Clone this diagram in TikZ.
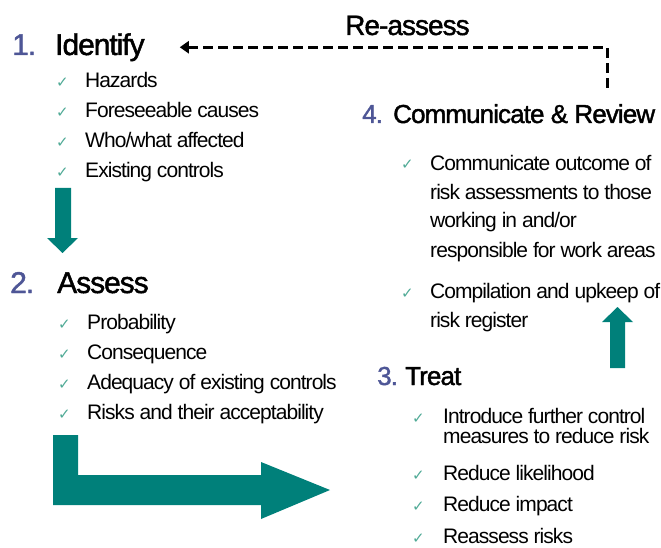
\documentclass[tikz,border=0pt]{standalone}
\usepackage{fontspec}
\setmainfont{Liberation Sans}
\newfontfamily\headfont{Liberation Sans}[LetterSpace=-3.5,FakeBold=1.5]
\newfontfamily\itemfont{Liberation Sans}[LetterSpace=-4.5]
\newfontfamily\tickfont{DejaVu Sans}
\usetikzlibrary{arrows.meta}

\definecolor{stepblue}{RGB}{78,86,150}
\definecolor{tickgreen}{RGB}{80,170,150}
\definecolor{arrowteal}{RGB}{0,128,122}

\tikzset{
  head/.style={anchor=base west,inner sep=0pt,font=\headfont\fontsize{30}{32}\selectfont},
  subhead/.style={head,font=\headfont\fontsize{26}{30}\selectfont},
  num/.style={text=stepblue},
  item/.style={anchor=base west,inner sep=0pt,align=left,font=\itemfont\fontsize{21}{29}\selectfont},
  tick/.style={anchor=base west,inner sep=0pt,text=tickgreen,font=\tickfont\fontsize{15}{15}\selectfont},
  block/.style={fill=arrowteal,draw=none},
  reassess/.style={dashed,dash pattern=on 10pt off 5pt,line width=3pt,-{Triangle[length=9pt,width=12pt]}}
}

\begin{document}
\begin{tikzpicture}[x=1pt,y=-1pt]
\useasboundingbox (0,0) rectangle (661,548);

% 1. Identify
\node[head,num] (n1) at (12,55) {1.};
\node[head] (idf) at (55,55) {Identify};
\foreach \txt [count=\i] in {Hazards,Foreseeable causes,Who/what affected,Existing controls}{
  \node[tick] (idt\i) at (56,58+30*\i) {✓};
  \node[item] (id\i) at (85,58+30*\i) {\txt};
}

% 2. Assess
\node[head,num] (n2) at (10,293) {2.};
\node[head] (asr) at (57,293) {Assess};
\foreach \txt [count=\i] in {Probability,Consequence,Adequacy of existing controls,Risks and their acceptability}{
  \node[tick] (ast\i) at (58,299+30*\i) {✓};
  \node[item] (as\i) at (87,299+30*\i) {\txt};
}

% 3. Treat  (multi-line items sit on the baseline of their last line)
\node[subhead,num] (n3) at (377,385) {3.};
\node[subhead] (trt) at (405,385) {Treat};
\node[tick] (trt1) at (412,423) {✓};
\node[item,font=\itemfont\fontsize{21}{20}\selectfont] (tr1) at (443,443) {Introduce further control\\measures to reduce risk};
\foreach \txt [count=\i from 2] in {Reduce likelihood,Reduce impact,Reassess risks}{
  \node[tick] (trt\i) at (412,417+31.5*\i) {✓};
  \node[item] (tr\i) at (443,417+31.5*\i) {\txt};
}

% 4. Communicate & Review
\node[subhead,num] (n4) at (362,123) {4.};
\node[subhead] (rev) at (393,123) {Communicate \& Review};
\node[tick] (rvt1) at (401,170) {✓};
\node[item] (rv1) at (430,257) {Communicate outcome of\\risk assessments to those\\working in and/or\\responsible for work areas};
\node[tick] (rvt2) at (401,298) {✓};
\node[item] (rv2) at (430,327) {Compilation and upkeep of\\risk register};

% block arrows between the steps
\fill[block] (55,188) -- (71,188) -- (71,238) -- (78,238) -- (62.5,253) -- (47,238) -- (55,238) -- cycle;
\fill[block] (53,435) -- (78,435) -- (78,475) -- (261,475) -- (261,462) -- (330,490)
  -- (261,519) -- (261,505) -- (53,505) -- cycle;
\fill[block] (610,368) -- (625,368) -- (625,322) -- (633,322) -- (617.5,307) -- (602,322) -- (610,322) -- cycle;

% loop back to the start
\node[head,font=\headfont\fontsize{28}{30}\selectfont] (ra) at (345,35) {Re-assess};
\coordinate (raturn) at (607,88);
\draw[reassess] (raturn) |- ([xshift=35pt]idf.east);

\end{tikzpicture}
\end{document}
